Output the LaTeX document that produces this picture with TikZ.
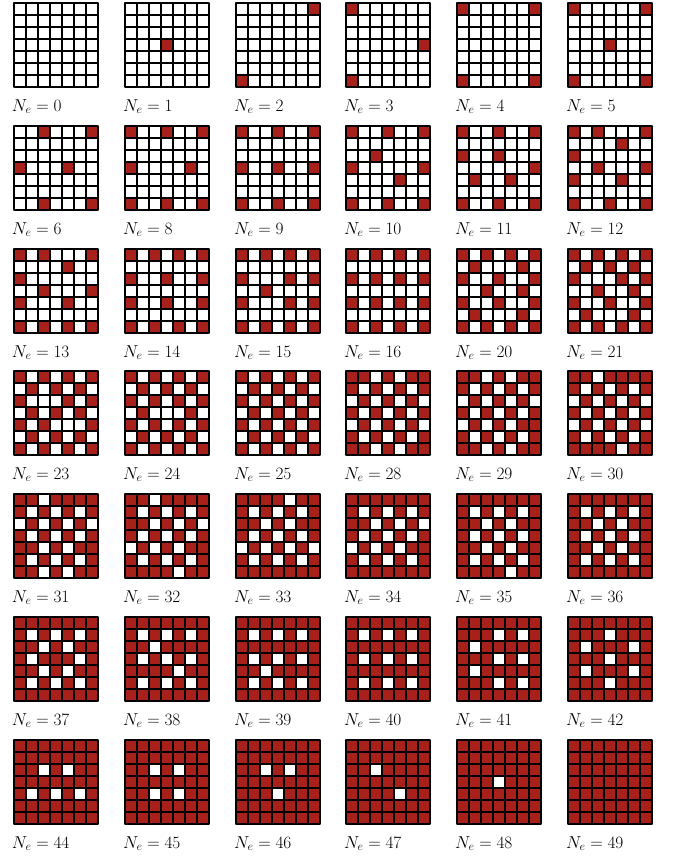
\documentclass[tikz,border=0pt]{standalone}
\definecolor{cellred}{RGB}{168,32,26}
\newcount\gcol
\newcount\grow
\def\cellsz{12}
\def\gridX{0}
\def\gridY{0}
\def\fillcell{\fill[cellred] (\gridX+\the\gcol*\cellsz,\gridY+\the\grow*\cellsz) rectangle ++(\cellsz,\cellsz);}
\def\gridcells#1{\ifx#1\relax\else\if1#1\fillcell\fi\global\advance\gcol by 1 \ifnum\gcol=7 \global\gcol=0 \global\advance\grow by 1 \fi\expandafter\gridcells\fi}
\newcommand\cellgrid[4]{%
  \pgfmathsetmacro\gridX{{14,125,236,346,457,568}[#1]}%
  \pgfmathsetmacro\gridY{{3,126,249,371,494,617,740}[#2]}%
  \global\gcol=0 \global\grow=0
  \gridcells#4\relax
  \foreach \i in {1,...,6} {
    \draw[gline] (\gridX+\i*\cellsz,\gridY) -- (\gridX+\i*\cellsz,\gridY+7*\cellsz);
    \draw[gline] (\gridX,\gridY+\i*\cellsz) -- (\gridX+7*\cellsz,\gridY+\i*\cellsz);
  }
  \draw[gborder] (\gridX,\gridY) rectangle (\gridX+7*\cellsz,\gridY+7*\cellsz);
  \node[lbl] (n-#1-#2) at (\gridX-2.2,\gridY+108) {$N_e=#3$};
}
\begin{document}
\begin{tikzpicture}[x=1pt,y=-1pt,
  gline/.style={line width=2pt,black},
  gborder/.style={line width=2.2pt,black,line join=round},
  lbl/.style={anchor=base west,inner sep=0pt,font=\fontsize{17.5}{20}\selectfont}]
\useasboundingbox (0,0) rectangle (683,857);
% row 0
\cellgrid{0}{0}{0}{0000000 0000000 0000000 0000000 0000000 0000000 0000000}
\cellgrid{1}{0}{1}{0000000 0000000 0000000 0001000 0000000 0000000 0000000}
\cellgrid{2}{0}{2}{0000001 0000000 0000000 0000000 0000000 0000000 1000000}
\cellgrid{3}{0}{3}{1000000 0000000 0000000 0000001 0000000 0000000 1000000}
\cellgrid{4}{0}{4}{1000001 0000000 0000000 0000000 0000000 0000000 1000001}
\cellgrid{5}{0}{5}{1000001 0000000 0000000 0001000 0000000 0000000 1000001}
% row 1
\cellgrid{0}{1}{6}{0010001 0000000 0000000 1000100 0000000 0000000 0010001}
\cellgrid{1}{1}{8}{1001001 0000000 0000000 1000010 0000000 0000000 1001001}
\cellgrid{2}{1}{9}{1001001 0000000 0000000 1001001 0000000 0000000 1001001}
\cellgrid{3}{1}{10}{1001001 0000000 0010000 1000001 0000100 0000000 1001001}
\cellgrid{4}{1}{11}{1001001 0000000 1001000 0000001 0100100 0000000 1001001}
\cellgrid{5}{1}{12}{1010001 0000100 1000000 0010001 1000100 0000000 1001001}
% row 2
\cellgrid{0}{2}{13}{1010001 0000100 1000000 0010001 1000100 0000000 1010101}
\cellgrid{1}{2}{14}{1010101 0000000 1001001 0000000 1001001 0000000 1010101}
\cellgrid{2}{2}{15}{1010101 0000000 1000101 0010000 1000101 0000000 1010101}
\cellgrid{3}{2}{16}{1010101 0000000 1010101 0000000 1010101 0000000 1010101}
\cellgrid{4}{2}{20}{1010101 0100010 1001001 0010010 1001001 0100010 1010101}
\cellgrid{5}{2}{21}{1010101 0101010 1000101 0010010 1001001 0100010 1010101}
% row 3
\cellgrid{0}{3}{23}{1010101 0101010 1000101 0101010 1010001 0101010 1010101}
\cellgrid{1}{3}{24}{1010101 0101010 1010101 0100010 1010101 0101010 1010101}
\cellgrid{2}{3}{25}{1010101 0101010 1010101 0101010 1010101 0101010 1010101}
\cellgrid{3}{3}{28}{1101011 1010101 0101010 1010101 0101010 1010101 1101011}
\cellgrid{4}{3}{29}{1101011 1010101 0101010 1010101 0101011 1010101 1101011}
\cellgrid{5}{3}{30}{1101111 1010101 0101010 1010101 0101010 1010101 1111011}
% row 4
\cellgrid{0}{4}{31}{1101111 1010101 0101010 1010101 1101011 1010101 1101011}
\cellgrid{1}{4}{32}{1101111 1010101 1101010 1010101 0101011 1010101 1111011}
\cellgrid{2}{4}{33}{1111011 1010101 1101011 1010101 0101010 1010101 1111111}
\cellgrid{3}{4}{34}{1111111 1010101 1101010 1010101 0101011 1010101 1111111}
\cellgrid{4}{4}{35}{1111111 1010101 1101011 1010101 1101011 1010101 1111011}
\cellgrid{5}{4}{36}{1111111 1010101 1101011 1010101 1101011 1010101 1111111}
% row 5
\cellgrid{0}{5}{37}{1111111 1010101 1101011 1011101 1101011 1010101 1111111}
\cellgrid{1}{5}{38}{1111111 1010101 1101111 1010101 1111011 1010101 1111111}
\cellgrid{2}{5}{39}{1111111 1010101 1111111 1010101 1101111 1010101 1111111}
\cellgrid{3}{5}{40}{1111111 1010101 1111111 1010101 1111111 1010101 1111111}
\cellgrid{4}{5}{41}{1111111 1110101 1011111 1110101 1011111 1110101 1111111}
\cellgrid{5}{5}{42}{1111111 1110111 1011101 1110111 1011101 1110111 1111111}
% row 6
\cellgrid{0}{6}{44}{1111111 1111111 1101011 1111111 1010101 1111111 1111111}
\cellgrid{1}{6}{45}{1111111 1111111 1101011 1111111 1101011 1111111 1111111}
\cellgrid{2}{6}{46}{1111111 1111111 1101011 1111111 1110111 1111111 1111111}
\cellgrid{3}{6}{47}{1111111 1111111 1101111 1111111 1111011 1111111 1111111}
\cellgrid{4}{6}{48}{1111111 1111111 1111111 1110111 1111111 1111111 1111111}
\cellgrid{5}{6}{49}{1111111 1111111 1111111 1111111 1111111 1111111 1111111}
\end{tikzpicture}
\end{document}
